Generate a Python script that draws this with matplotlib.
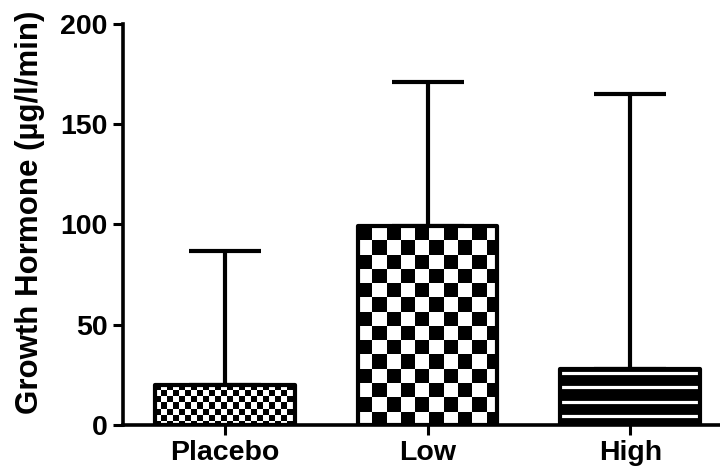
import numpy as np
import matplotlib.pyplot as plt

groups = ['Placebo', 'Low', 'High']
means = [20, 99, 28]
upper_err = [67, 72, 137]
fills = ['check_fine', 'check_coarse', 'stripes']

plt.rcParams['font.family'] = ['Liberation Sans', 'DejaVu Sans']
plt.rcParams['font.weight'] = 'bold'


def checker_fill(ax, bar, cw, ch):
    # checkerboard image clipped to the bar outline
    x0, w, h = bar.get_x(), bar.get_width(), bar.get_height()
    nx = int(np.ceil(w / cw))
    ny = int(np.ceil(h / ch))
    board = np.add.outer(np.arange(ny), np.arange(nx)) % 2
    im = ax.imshow(board, cmap='gray', origin='upper', aspect='auto',
                   interpolation='nearest', zorder=3,
                   extent=(x0, x0 + nx * cw, h - ny * ch, h))
    im.set_clip_path(bar)


def stripe_fill(ax, bar, step, offset):
    x0, w, h = bar.get_x(), bar.get_width(), bar.get_height()
    ys = np.arange(offset, h, step)
    lines = ax.hlines(ys, x0, x0 + w, colors='white', linewidth=2.3, zorder=3)
    lines.set_clip_path(bar)


fig = plt.figure(figsize=(7.2, 4.76), dpi=100)
ax = fig.add_axes([0.171, 0.107, 0.829, 0.843])

x = np.arange(len(groups))
ax.errorbar(x, means, yerr=[np.zeros(len(means)), upper_err], fmt='none',
            ecolor='black', elinewidth=3, capsize=26, capthick=3, zorder=1)

# white/black base under the patterns
base = ax.bar(x, means, 0.69, color=['white', 'white', 'black'],
              linewidth=0, zorder=2)
for bar, kind in zip(base, fills):
    if kind == 'check_fine':
        checker_fill(ax, bar, 0.0296, 3.0)
    elif kind == 'check_coarse':
        checker_fill(ax, bar, 0.0704, 7.1)
    else:
        stripe_fill(ax, bar, 7.1, 4.6)

ax.bar(x, means, 0.69, facecolor='none', edgecolor='black', linewidth=3,
       joinstyle='round', zorder=4)

ax.set_xlim(-0.502, 2.443)
ax.set_ylim(0, 200)
ax.set_yticks([0, 50, 100, 150, 200])
ax.set_xticks(x)
ax.set_xticklabels(groups)
ax.set_ylabel('Growth Hormone (µg/l/min)', fontsize=22.5, fontweight='bold')
ax.yaxis.set_label_coords(-0.131, 0.531)

for side in ['top', 'right']:
    ax.spines[side].set_visible(False)
for side in ['left', 'bottom']:
    ax.spines[side].set_linewidth(2.6)
ax.tick_params(axis='both', width=2.2, length=7, labelsize=20.5, pad=4)

fig.savefig('out.png', dpi=100)
